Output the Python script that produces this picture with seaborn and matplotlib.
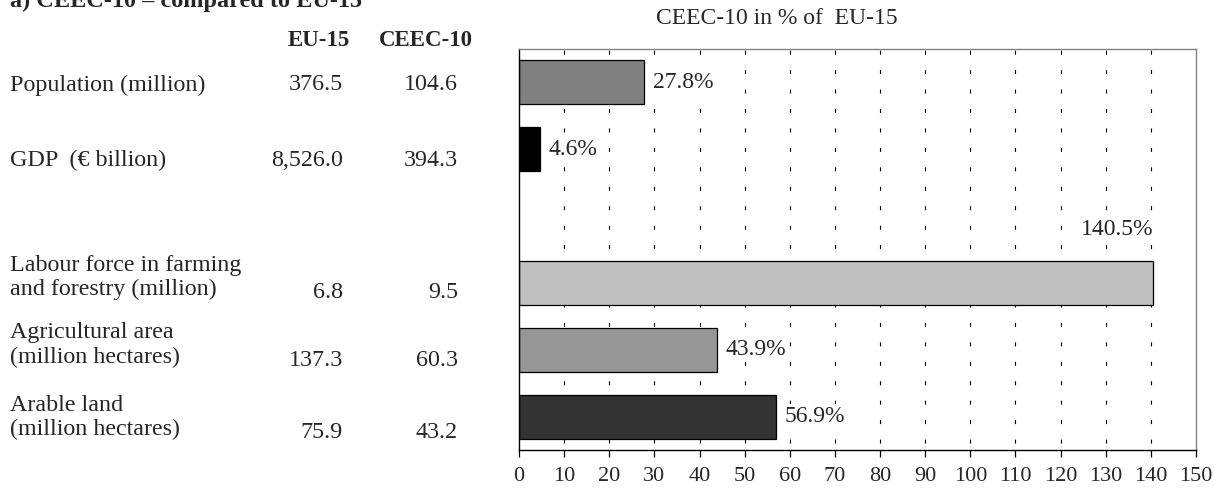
import matplotlib
matplotlib.use("Agg")
import matplotlib.pyplot as plt
import seaborn as sns
import pandas as pd

# Indicators and their absolute values (EU-15 vs CEEC-10)
indicators = [
    "Population (million)",
    "GDP  (€ billion)",
    "Labour force in farming\nand forestry (million)",
    "Agricultural area\n(million hectares)",
    "Arable land\n(million hectares)",
]
eu15_values = ["376.5", "8,526.0", "6.8", "137.3", "75.9"]
ceec10_values = ["104.6", "394.3", "9.5", "60.3", "43.2"]

# CEEC-10 as a percentage of EU-15
share_pct = [27.8, 4.6, 140.5, 43.9, 56.9]
bar_colors = ["#808080", "#000000", "#c0c0c0", "#969696", "#333333"]
x_ticks = list(range(0, 151, 10))

main_title = "a) CEEC-10 \u2013 compared to EU-15"
chart_title = "CEEC-10 in % of  EU-15"
col_headers = ["EU-15", "CEEC-10"]

sns.set_theme(style="white")
plt.rcParams["font.family"] = ["Liberation Serif", "DejaVu Serif"]

W, H = 1214, 490
fig = plt.figure(figsize=(W / 100, H / 100), dpi=100)


def px(x, y):
    return x / W, 1 - y / H


# Bar chart panel
ax = fig.add_axes([519 / W, 40 / H, (1196 - 519) / W, (450 - 49) / H])

gap = " "
order = indicators[:2] + [gap] + indicators[2:]
df = pd.DataFrame({"indicator": indicators, "share": share_pct})
sns.barplot(
    data=df, y="indicator", x="share", hue="indicator",
    order=order, hue_order=indicators,
    palette=dict(zip(indicators, bar_colors)),
    width=0.66, edgecolor="black", linewidth=0.9,
    legend=False, orient="h", ax=ax,
)

ax.set_xlim(0, 150)
ax.set_ylim(len(order) - 0.5, -0.5)
ax.set_xticks(x_ticks)
ax.set_xticklabels([str(t) for t in x_ticks], fontsize=16)
ax.set_yticks([])
ax.set_xlabel("")
ax.set_ylabel("")
ax.tick_params(axis="x", direction="out", length=5, width=0.9,
               color="black", pad=7.5, bottom=True)

# Dotted vertical gridlines behind the bars
ax.set_axisbelow(True)
ax.xaxis.grid(True, color="black", linewidth=0.8,
              linestyle=(11.25, (3.6, 13.9)))
ax.yaxis.grid(False)
for gl, t in zip(ax.get_xgridlines(), x_ticks):
    if t in (0, 150):
        gl.set_visible(False)

for side in ("left", "bottom"):
    ax.spines[side].set_color("black")
    ax.spines[side].set_linewidth(1.0)
for side in ("top", "right"):
    ax.spines[side].set_color("#808080")
    ax.spines[side].set_linewidth(1.0)

# Value labels; the widest bar carries its label in the free row above it
box = dict(facecolor="white", edgecolor="none", pad=1.5)
for name, v in zip(indicators, share_pct):
    slot = order.index(name)
    label = f"{v:.1f}%"
    if v > 130:
        ax.text(v, slot - 0.8, label, ha="right", va="center",
                fontsize=17, bbox=box, zorder=5)
    else:
        ax.annotate(label, xy=(v, slot), xytext=(6, 0),
                    textcoords="offset points", ha="left", va="center",
                    fontsize=17, bbox=box, zorder=5)

# Titles
fig.text(*px(10, 7), main_title, fontsize=17.5, fontweight="bold",
         ha="left", va="baseline")
fig.text(*px(777, 18), chart_title, fontsize=17, ha="center", va="center")

# Table of absolute values on the left
fig.text(*px(319, 40), col_headers[0], fontsize=16.5, fontweight="bold",
         ha="center", va="center")
fig.text(*px(425.5, 40), col_headers[1], fontsize=16.5, fontweight="bold",
         ha="center", va="center")

label_y = [85, 160, 277.5, 345, 417.5]
value_y = [85, 160, 292, 360, 432]
for name, e, c, ly, vy in zip(indicators, eu15_values, ceec10_values,
                              label_y, value_y):
    fig.text(*px(10, ly), name, fontsize=17.3, ha="left", va="center",
             linespacing=1.22)
    fig.text(*px(343, vy), e, fontsize=17.3, ha="right", va="center")
    fig.text(*px(458, vy), c, fontsize=17.3, ha="right", va="center")

fig.savefig("out.png", dpi=100)
